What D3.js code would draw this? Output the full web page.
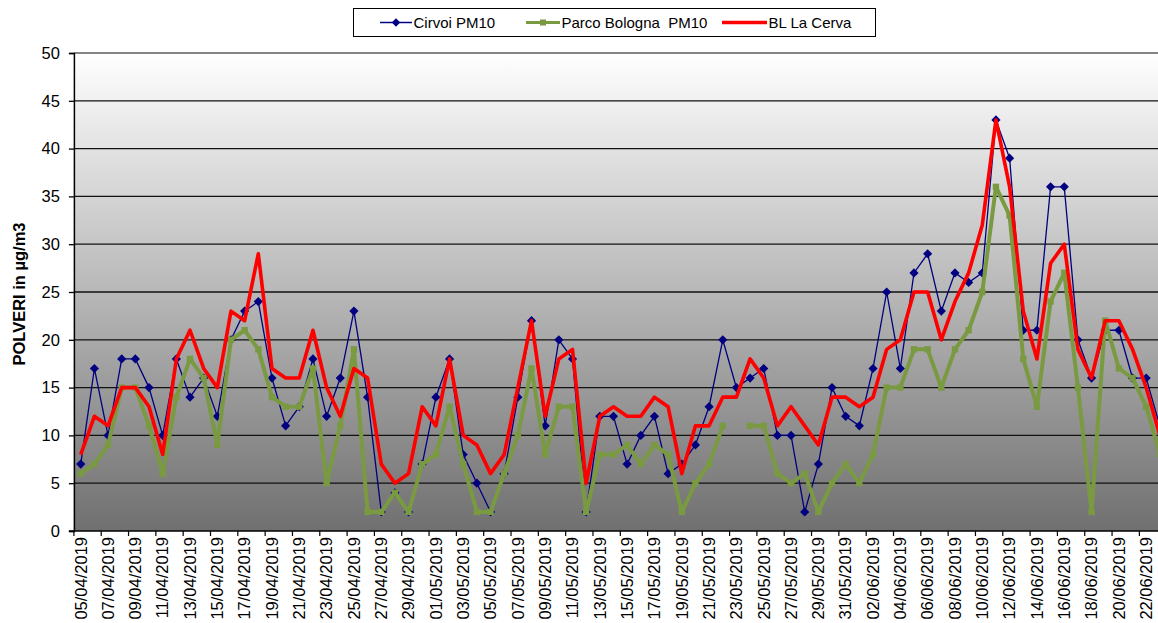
<!DOCTYPE html>
<html>
<head>
<meta charset="utf-8">
<script src="https://cdn.jsdelivr.net/npm/d3@7"></script>
<style>
  body { margin: 0; background: #fff; }
  svg { display: block; font-family: "Liberation Sans", Arial, sans-serif; }
</style>
</head>
<body>
<div id="chart"></div>
<script>
// categories (days), the last one is partly cut off at the right edge
const days = [
  "05/04/2019","06/04/2019","07/04/2019","08/04/2019","09/04/2019","10/04/2019","11/04/2019","12/04/2019",
  "13/04/2019","14/04/2019","15/04/2019","16/04/2019","17/04/2019","18/04/2019","19/04/2019","20/04/2019",
  "21/04/2019","22/04/2019","23/04/2019","24/04/2019","25/04/2019","26/04/2019","27/04/2019","28/04/2019",
  "29/04/2019","30/04/2019","01/05/2019","02/05/2019","03/05/2019","04/05/2019","05/05/2019","06/05/2019",
  "07/05/2019","08/05/2019","09/05/2019","10/05/2019","11/05/2019","12/05/2019","13/05/2019","14/05/2019",
  "15/05/2019","16/05/2019","17/05/2019","18/05/2019","19/05/2019","20/05/2019","21/05/2019","22/05/2019",
  "23/05/2019","24/05/2019","25/05/2019","26/05/2019","27/05/2019","28/05/2019","29/05/2019","30/05/2019",
  "31/05/2019","01/06/2019","02/06/2019","03/06/2019","04/06/2019","05/06/2019","06/06/2019","07/06/2019",
  "08/06/2019","09/06/2019","10/06/2019","11/06/2019","12/06/2019","13/06/2019","14/06/2019","15/06/2019",
  "16/06/2019","17/06/2019","18/06/2019","19/06/2019","20/06/2019","21/06/2019","22/06/2019","23/06/2019"
];

const cirvoi = [7,17,10,18,18,15,10,18,14,16,12,20,23,24,16,11,13,18,12,16,
  23,14,2,4,2,7,14,18,8,5,2,6,14,22,11,20,18,2,12,12,
  7,10,12,6,7,9,13,20,15,16,17,10,10,2,7,15,12,11,17,25,
  17,27,29,23,27,26,27,43,39,21,21,36,36,20,16,21,21,16,16,11];

const parcoBologna = [6,7,9,15,15,11,6,14,18,16,9,20,21,19,14,13,13,17,5,11,
  19,2,2,4,2,7,8,13,7,2,2,6,10,17,8,13,13,2,8,8,
  9,7,9,8,2,5,7,11,null,11,11,6,5,6,2,5,7,5,8,15,
  15,19,19,15,19,21,25,36,33,18,13,24,27,15,2,22,17,16,13,8];

const laCerva = [8,12,11,15,15,13,8,18,21,17,15,23,22,29,17,16,16,21,15,12,
  17,16,7,5,6,13,11,18,10,9,6,8,15,22,12,18,19,5,12,13,
  12,12,14,13,6,11,11,14,14,18,16,11,13,11,9,14,14,13,14,19,
  20,25,25,20,24,27,32,43,36,23,18,28,30,19,16,22,22,19,15,10];

const yTicks = [0, 5, 10, 15, 20, 25, 30, 35, 40, 45, 50];

const width = 1158, height = 623;
const plotLeft = 73.9, plotTop = 53, plotBottom = 531;
const step = 13.66;

const svg = d3.select("#chart").append("svg")
  .attr("width", width)
  .attr("height", height);

const x = d3.scaleBand()
  .domain(days)
  .range([plotLeft, plotLeft + step * days.length])
  .paddingInner(0).paddingOuter(0);

const y = d3.scaleLinear().domain([0, 50]).range([plotBottom, plotTop]);

const cx = d => x(d) + x.bandwidth() / 2;
const plotRight = x.range()[1];

// plot area gradient
const grad = svg.append("defs").append("linearGradient")
  .attr("id", "bg").attr("x1", 0).attr("y1", 0).attr("x2", 0).attr("y2", 1);
grad.append("stop").attr("offset", "0%").attr("stop-color", "#ffffff");
grad.append("stop").attr("offset", "100%").attr("stop-color", "#707070");

svg.append("rect")
  .attr("x", plotLeft).attr("y", plotTop)
  .attr("width", plotRight - plotLeft).attr("height", plotBottom - plotTop)
  .attr("fill", "url(#bg)");

// horizontal gridlines
svg.append("g").selectAll("line")
  .data(yTicks.filter(v => v > 0))
  .join("line")
  .attr("x1", plotLeft).attr("x2", plotRight)
  .attr("y1", d => y(d)).attr("y2", d => y(d))
  .attr("stroke", d => d === 50 ? "#858585" : "#111")
  .attr("stroke-width", d => d === 50 ? 2.2 : 1.3);

// y axis
const yAxis = svg.append("g")
  .attr("transform", `translate(${plotLeft},0)`)
  .call(d3.axisLeft(y).tickValues(yTicks).tickSize(5).tickPadding(9));
yAxis.select(".domain").attr("stroke", "#000").attr("stroke-width", 1.5);
yAxis.selectAll(".tick line").attr("stroke", "#000").attr("stroke-width", 1.3);
yAxis.selectAll("text").attr("font-size", 16.5).attr("fill", "#000")
  .attr("font-family", "Liberation Sans, Arial, sans-serif");

// x axis: baseline, ticks every two days, rotated labels
svg.append("line")
  .attr("x1", plotLeft - 5).attr("x2", plotRight)
  .attr("y1", plotBottom).attr("y2", plotBottom)
  .attr("stroke", "#000").attr("stroke-width", 1.5);

const labelled = days.filter((d, i) => i % 2 === 0);

svg.append("g").selectAll("line")
  .data(labelled)
  .join("line")
  .attr("x1", d => x(d)).attr("x2", d => x(d))
  .attr("y1", plotBottom).attr("y2", plotBottom + 5)
  .attr("stroke", "#000").attr("stroke-width", 1.2);

svg.append("g").selectAll("text")
  .data(labelled)
  .join("text")
  .attr("transform", d => `translate(${cx(d)},${plotBottom + 6}) rotate(-90)`)
  .attr("text-anchor", "end")
  .attr("dy", "0.35em")
  .attr("font-size", 16.5)
  .text(d => d);

// y axis title
svg.append("text")
  .attr("transform", `translate(19,${(plotTop + plotBottom) / 2 + 2}) rotate(-90)`)
  .attr("text-anchor", "middle")
  .attr("dy", "0.35em")
  .attr("font-size", 16.5)
  .attr("font-weight", "bold")
  .text("POLVERI in µg/m3");

// series
const lineOf = vals => d3.line()
  .defined((d, i) => vals[i] != null)
  .x(d => cx(d))
  .y((d, i) => y(vals[i]));

const plot = svg.append("g");

// Cirvoi
plot.append("path")
  .attr("d", lineOf(cirvoi)(days))
  .attr("fill", "none").attr("stroke", "#000080").attr("stroke-width", 1.3);
plot.append("g").selectAll("path")
  .data(days)
  .join("path")
  .attr("transform", (d, i) => `translate(${cx(d)},${y(cirvoi[i])})`)
  .attr("d", "M0,-4.6L4.6,0L0,4.6L-4.6,0Z")
  .attr("fill", "#000080");

// Parco Bologna
plot.append("path")
  .attr("d", lineOf(parcoBologna)(days))
  .attr("fill", "none").attr("stroke", "#7a9a42").attr("stroke-width", 4)
  .attr("stroke-linejoin", "round");
plot.append("g").selectAll("rect")
  .data(days.filter((d, i) => parcoBologna[i] != null))
  .join("rect")
  .attr("x", d => cx(d) - 3.2)
  .attr("y", d => y(parcoBologna[days.indexOf(d)]) - 3.2)
  .attr("width", 6.4).attr("height", 6.4)
  .attr("fill", "#7a9a42");

// BL La Cerva
plot.append("path")
  .attr("d", lineOf(laCerva)(days))
  .attr("fill", "none").attr("stroke", "#ff0000").attr("stroke-width", 3.6)
  .attr("stroke-linejoin", "round");

// legend
const lg = svg.append("g");
lg.append("rect")
  .attr("x", 353.5).attr("y", 8.5).attr("width", 522).attr("height", 28)
  .attr("fill", "#fff").attr("stroke", "#000").attr("stroke-width", 1);

const legendItems = [
  { name: "Cirvoi PM10", color: "#000080", w: 1.5, x0: 380, x1: 412, marker: "diamond" },
  { name: "Parco Bologna  PM10", color: "#7a9a42", w: 3, x0: 526, x1: 560, marker: "square" },
  { name: "BL La Cerva", color: "#ff0000", w: 3.6, x0: 722, x1: 767, marker: null }
];
const ly = 22.5;
legendItems.forEach(it => {
  lg.append("line")
    .attr("x1", it.x0).attr("x2", it.x1).attr("y1", ly).attr("y2", ly)
    .attr("stroke", it.color).attr("stroke-width", it.w);
  const mx = (it.x0 + it.x1) / 2;
  if (it.marker === "diamond") {
    lg.append("path").attr("transform", `translate(${mx},${ly})`)
      .attr("d", "M0,-4.2L4.2,0L0,4.2L-4.2,0Z").attr("fill", it.color);
  } else if (it.marker === "square") {
    lg.append("rect").attr("x", mx - 3).attr("y", ly - 3)
      .attr("width", 6).attr("height", 6).attr("fill", it.color);
  }
  lg.append("text")
    .attr("x", it.x1 + 1.5).attr("y", ly)
    .attr("dy", "0.35em")
    .attr("font-size", 15)
    .style("white-space", "pre")
    .text(it.name);
});
</script>
</body>
</html>
